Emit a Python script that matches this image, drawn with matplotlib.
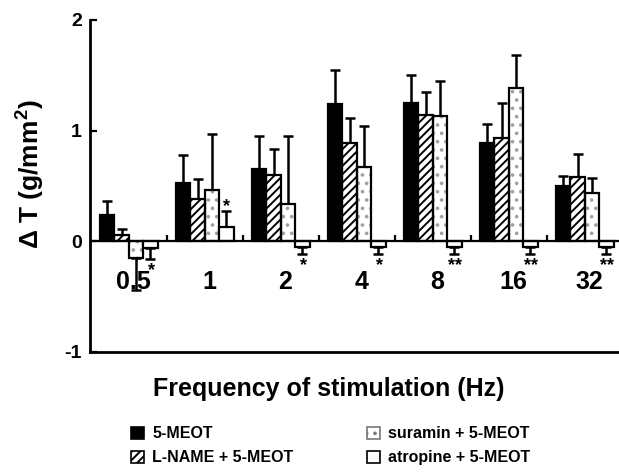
import numpy as np
import matplotlib
matplotlib.use("Agg")
import matplotlib.pyplot as plt
from matplotlib.patches import Patch

plt.rcParams['font.family'] = ['Liberation Sans', 'DejaVu Sans']
plt.rcParams['font.weight'] = 'bold'
plt.rcParams['mathtext.fontset'] = 'custom'
plt.rcParams['mathtext.rm'] = 'Liberation Sans:bold'
plt.rcParams['mathtext.it'] = 'Liberation Sans:bold'
plt.rcParams['mathtext.bf'] = 'Liberation Sans:bold'
plt.rcParams['hatch.linewidth'] = 1.4

# data (delta T, g/mm^2)
freqs = ['0.5', '1', '2', '4', '8', '16', '32']
meot = [0.24, 0.53, 0.65, 1.24, 1.25, 0.89, 0.50]
meot_err = [0.12, 0.25, 0.30, 0.31, 0.25, 0.17, 0.09]
lname = [0.06, 0.38, 0.60, 0.89, 1.14, 0.93, 0.58]
lname_err = [0.05, 0.18, 0.23, 0.22, 0.21, 0.32, 0.21]
suramin = [-0.15, 0.46, 0.34, 0.67, 1.13, 1.39, 0.44]
suramin_err = [0.29, 0.51, 0.61, 0.37, 0.32, 0.29, 0.13]
atropine = [-0.06, 0.13, -0.05, -0.05, -0.05, -0.05, -0.05]
atropine_err = [0.10, 0.14, 0.06, 0.06, 0.06, 0.06, 0.06]
stars = ['*', '*', '*', '*', '**', '**', '**']

x = np.arange(len(freqs))
w = 0.19
offs = [-1.5 * w, -0.5 * w, 0.5 * w, 1.5 * w]

fig = plt.figure(figsize=(6.19, 4.72), dpi=100)
ax = fig.add_axes([90 / 619, 1 - 352 / 472, 1 - 90 / 619, (352 - 20) / 472])


def draw(vals, errs, off, face, hatch=None, hcol='black'):
    vals = np.array(vals)
    errs = np.array(errs)
    if hatch:
        ax.bar(x + off, vals, w, color=face, edgecolor=hcol, hatch=hatch, lw=0, zorder=2)
        ax.bar(x + off, vals, w, fill=False, edgecolor='black', lw=1.6, zorder=3)
    else:
        ax.bar(x + off, vals, w, color=face, edgecolor='black', lw=1.6, zorder=3)
    up = np.where(vals >= 0, errs, 0)
    dn = np.where(vals < 0, errs, 0)
    ax.errorbar(x + off, vals, yerr=[dn, up], fmt='none', ecolor='black',
                elinewidth=1.8, capsize=3.5, capthick=1.8, zorder=1)


draw(meot, meot_err, offs[0], 'black')
draw(lname, lname_err, offs[1], 'white', '////')
draw(suramin, suramin_err, offs[2], 'white', '..', '#a0a0a0')
draw(atropine, atropine_err, offs[3], 'white')

# significance marks for atropine bars
for i, s in enumerate(stars):
    v, e = atropine[i], atropine_err[i]
    if v >= 0:
        ax.text(x[i] + offs[3], v + e + 0.12, s, ha='center', va='top', fontsize=13)
    else:
        ax.text(x[i] + offs[3] + 0.01, v - e - 0.03, s, ha='center', va='top', fontsize=13)

# group labels inside the plot, below zero
for i, f in enumerate(freqs):
    ax.text(x[i] + 0.06, -0.37, f, ha='center', va='center', fontsize=18)

ax.axhline(0, color='black', lw=1.6, zorder=4)
ax.vlines(x[:-1] + 0.5, 0, 0.06, color='black', lw=1.6)

ax.set_xlim(-0.51, 6.45)
ax.set_ylim(-1, 2)
ax.set_yticks([-1, 0, 1, 2])
ax.set_yticklabels(['-1', '0', '1', '2'], fontsize=14)
ax.set_xticks([])
ax.tick_params(axis='y', direction='in', length=5, width=1.6, pad=6)
for side in ['top', 'right']:
    ax.spines[side].set_visible(False)
for side in ['left', 'bottom']:
    ax.spines[side].set_linewidth(2)

fig.text(31 / 619, 1 - 174 / 472, 'Δ T (g/mm$^2$)', rotation=90, ha='center', va='center', fontsize=19)
fig.text(329 / 619, 1 - 389 / 472, 'Frequency of stimulation (Hz)', ha='center', va='center', fontsize=18)

handles = [
    Patch(facecolor='black', edgecolor='black', lw=1.2),
    Patch(facecolor='white', edgecolor='black', hatch='////', lw=1.2),
    Patch(facecolor='white', edgecolor='#777777', hatch='..', lw=1.2),
    Patch(facecolor='white', edgecolor='black', lw=1.2),
]
labels = ['5-MEOT', 'L-NAME + 5-MEOT', 'suramin + 5-MEOT', 'atropine + 5-MEOT']
fig.legend(handles, labels, loc='upper left', bbox_to_anchor=(117 / 619, 1 - 412 / 472),
           ncol=2, frameon=False, fontsize=11.5, handlelength=0.8, handleheight=0.8,
           handletextpad=0.5, columnspacing=4.6, labelspacing=0.55)

fig.savefig('out.png', dpi=100)
